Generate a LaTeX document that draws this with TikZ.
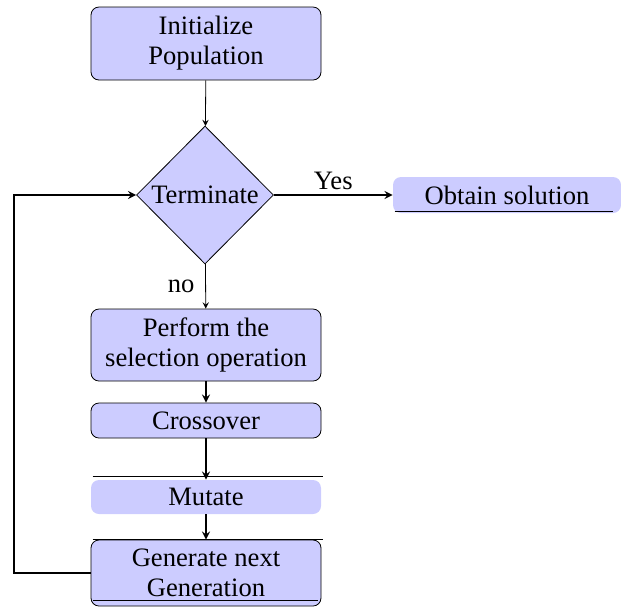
\documentclass[tikz,border=0pt]{standalone}
\usepackage{fontspec}
\setmainfont{Liberation Serif}
\usetikzlibrary{shapes.geometric}

\begin{document}
\begin{tikzpicture}[x=0.5pt,y=-0.5pt,>=stealth,
        every node/.style = {font=\fontsize{13.3}{15}\selectfont, align=center},
        process/.style = {rectangle, rounded corners=4pt, draw, thin,
            fill=blue!20, minimum width=115pt, inner sep=1pt},
        flat/.style = {rectangle, rounded corners=4pt, fill=blue!20,
            minimum width=115pt, inner sep=1pt},
        decision/.style = {diamond, draw, thin, fill=blue!20,
            minimum width=68.5pt, minimum height=69pt, inner sep=0pt},
        flow/.style = {->, thick}]
    \useasboundingbox (0,0) rectangle (621,607);

    \node[process, minimum height=36.5pt] (init) at (206,43.5) {Initialize\\Population};
    \node[decision] (term) at (205,195) {Terminate};
    \node[flat, minimum width=114pt, minimum height=18pt] (obtain) at (507,195) {Obtain solution};
    \node[process, minimum height=36pt] (select) at (206,345) {Perform the\\selection operation};
    \node[process, minimum height=17.5pt] (cross) at (206,420.5) {Crossover};
    \node[flat, minimum height=17pt] (mutate) at (206,497) {Mutate};
    \node[process, minimum height=33pt] (gen) at (206,573) {Generate next\\Generation};
    \coordinate (back) at (14,573);
    \coordinate (up) at (14,195);

    \draw[->, thin] (init) -- (term);
    \draw[->, thin] (term) -- node[left=2pt] {no} (select);
    \draw[flow] (term) -- node[above=-1pt] {Yes} (obtain);
    \draw[flow] (select) -- (cross);
    \draw[flow] (cross) -- (mutate);
    \draw[flow] (mutate) -- (gen);
    \draw[flow] (gen.west) -- (back) -- (up) -- (term.west);

    % stray rules
    \draw[thick] ([shift={(1pt,1pt)}]obtain.south west) -- ([shift={(-4pt,1pt)}]obtain.south east);
    \draw[thick] ([shift={(1pt,1.5pt)}]mutate.north west) -- ([shift={(1pt,1.5pt)}]mutate.north east);
    \draw[thick] ([shift={(1pt,0pt)}]gen.north west) -- ([shift={(1pt,0pt)}]gen.north east);
    \draw[thick] ([shift={(1pt,3pt)}]gen.south west) -- ([shift={(-1.5pt,3pt)}]gen.south east);
\end{tikzpicture}
\end{document}
